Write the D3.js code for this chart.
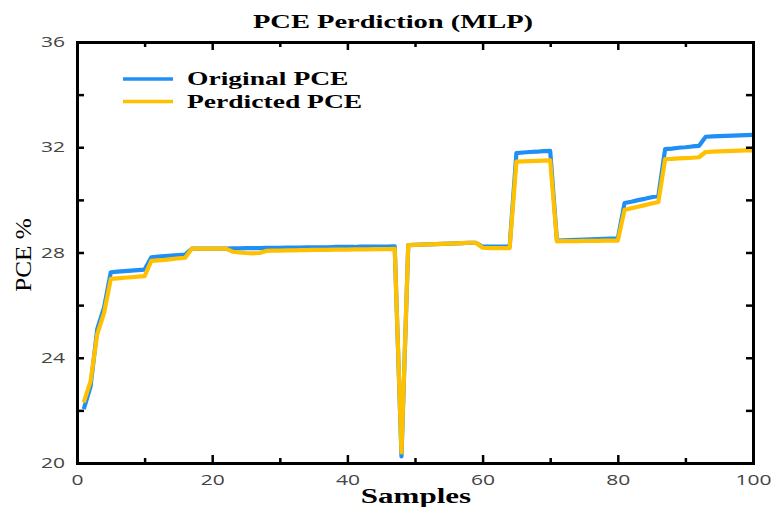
<!DOCTYPE html>
<html><head><meta charset="utf-8">
<script src="https://cdn.jsdelivr.net/npm/d3@7"></script>
<style>body{margin:0;background:#fff}svg{display:block}</style>
</head><body>
<svg id="c" width="771" height="507"></svg>
<script>
const samples = d3.range(1, 101);
const originalPCE = [
 22.05,22.9,25.1,25.9,27.25,27.27,27.29,27.31,27.33,27.35,
 27.82,27.84,27.86,27.88,27.9,27.92,28.15,28.15,28.15,28.15,
 28.15,28.15,28.16,28.16,28.17,28.17,28.17,28.18,28.18,28.18,
 28.19,28.19,28.19,28.2,28.2,28.2,28.2,28.21,28.21,28.21,
 28.21,28.22,28.22,28.22,28.22,28.22,28.23,20.25,28.28,28.29,
 28.3,28.31,28.32,28.33,28.34,28.35,28.36,28.37,28.37,28.22,
 28.22,28.22,28.22,28.22,31.78,31.8,31.82,31.83,31.85,31.86,
 28.45,28.46,28.47,28.48,28.49,28.5,28.51,28.52,28.53,28.53,
 29.88,29.93,29.99,30.04,30.1,30.15,31.93,31.95,31.98,32.0,
 32.03,32.05,32.4,32.41,32.42,32.43,32.44,32.45,32.46,32.47
];
const predictedPCE = [
 22.3,23.1,24.9,25.7,27.0,27.02,27.04,27.06,27.08,27.1,
 27.68,27.7,27.72,27.75,27.78,27.8,28.15,28.15,28.15,28.15,
 28.15,28.15,28.03,28.0,27.98,27.97,27.98,28.06,28.07,28.07,
 28.08,28.08,28.09,28.09,28.1,28.1,28.1,28.11,28.11,28.11,
 28.12,28.12,28.12,28.13,28.13,28.13,28.14,20.4,28.28,28.29,
 28.3,28.31,28.32,28.33,28.34,28.35,28.36,28.37,28.37,28.18,
 28.17,28.17,28.17,28.17,31.45,31.46,31.47,31.48,31.49,31.5,
 28.42,28.43,28.43,28.43,28.44,28.44,28.44,28.45,28.45,28.45,
 29.62,29.68,29.74,29.8,29.86,29.92,31.55,31.56,31.58,31.59,
 31.6,31.62,31.82,31.83,31.84,31.85,31.86,31.87,31.88,31.88
];
const xMajorTicks = [0,20,40,60,80,100];
const xMinorTicks = [10,30,50,70,90];
const yMajorTicks = [20,24,28,32,36];
const yMinorTicks = [22,26,30,34];
const seriesNames = ["Original PCE","Perdicted PCE"];
const seriesColors = ["#1f8ff5","#ffc000"];
const titleText = "PCE Perdiction (MLP)";
const xLabel = "Samples";
const yLabel = "PCE %";

const svg = d3.select("#c");
const L=77, R=753, T=42, B=463;
const x = d3.scaleLinear().domain([0,100]).range([L,R]);
const y = d3.scaleLinear().domain([20,36]).range([B,T]);

function stretch(sel, k){
  sel.each(function(){ const w=this.getComputedTextLength(); this.setAttribute("textLength", w*k); this.setAttribute("lengthAdjust","spacingAndGlyphs"); });
}

// lines
const line = d3.line().x((d,i)=>x(samples[i])).y(d=>y(d));
[originalPCE,predictedPCE].forEach((s,k)=>{
  svg.append("path").datum(s).attr("d",line).attr("fill","none")
    .attr("stroke",seriesColors[k]).attr("stroke-width",4.2).attr("stroke-linejoin","round");
});

// axes
function styleAxis(g){ g.select(".domain").attr("stroke","#000").attr("stroke-width",3);
  g.selectAll(".tick line").attr("stroke","#000").attr("stroke-width",2.5); }
const tickFont = "'Open Sans', sans-serif";
const gb = svg.append("g").attr("transform",`translate(0,${B})`)
  .call(d3.axisBottom(x).tickValues(xMajorTicks).tickSizeInner(-8).tickSizeOuter(0).tickPadding(9).tickFormat(d3.format("d")));
styleAxis(gb);
gb.selectAll("text").attr("font-family",tickFont).attr("font-size",14.5).attr("fill","#444").attr("dy","0.9em");
stretch(gb.selectAll("text"),1.45);
const gbm = svg.append("g").attr("transform",`translate(0,${B})`)
  .call(d3.axisBottom(x).tickValues(xMinorTicks).tickSizeInner(-5).tickSizeOuter(0).tickFormat(""));
styleAxis(gbm); gbm.select(".domain").remove();
const gt = svg.append("g").attr("transform",`translate(0,${T})`)
  .call(d3.axisTop(x).tickValues(xMajorTicks).tickSizeInner(-8).tickSizeOuter(0).tickFormat(""));
styleAxis(gt);
const gtm = svg.append("g").attr("transform",`translate(0,${T})`)
  .call(d3.axisTop(x).tickValues(xMinorTicks).tickSizeInner(-5).tickSizeOuter(0).tickFormat(""));
styleAxis(gtm); gtm.select(".domain").remove();

const gl = svg.append("g").attr("transform",`translate(${L},0)`)
  .call(d3.axisLeft(y).tickValues(yMajorTicks).tickSizeInner(-7).tickSizeOuter(0).tickPadding(12).tickFormat(d3.format("d")));
styleAxis(gl);
gl.selectAll("text").attr("font-family",tickFont).attr("font-size",14.5).attr("fill","#444");
stretch(gl.selectAll("text"),1.45);
const glm = svg.append("g").attr("transform",`translate(${L},0)`)
  .call(d3.axisLeft(y).tickValues(yMinorTicks).tickSizeInner(-7).tickSizeOuter(0).tickFormat(""));
styleAxis(glm); glm.select(".domain").remove();
const gr = svg.append("g").attr("transform",`translate(${R},0)`)
  .call(d3.axisRight(y).tickValues(yMajorTicks.concat(yMinorTicks)).tickSizeInner(-7).tickSizeOuter(0).tickFormat(""));
styleAxis(gr);
svg.selectAll(".domain").attr("stroke-linecap","square");

// title & labels
const serif = "'Liberation Serif','Times New Roman',serif";
const t = svg.append("text").attr("x",393).attr("y",28).attr("text-anchor","middle")
  .attr("font-family",serif).attr("font-weight","bold").attr("font-size",19).text(titleText);
stretch(t,1.5);
const xl = svg.append("text").attr("x",416).attr("y",503).attr("text-anchor","middle")
  .attr("font-family",serif).attr("font-weight","bold").attr("font-size",20).text(xLabel);
stretch(xl,1.55);
const yl = svg.append("text").attr("transform","translate(31,255) rotate(-90)").attr("text-anchor","middle")
  .attr("font-family",serif).attr("font-size",24).text(yLabel);
stretch(yl,1.05);

// legend
seriesNames.forEach((n,k)=>{
  const yy = 79 + k*22.5;
  svg.append("line").attr("x1",123).attr("x2",173).attr("y1",yy).attr("y2",yy)
    .attr("stroke",seriesColors[k]).attr("stroke-width",3.5);
  const tx = svg.append("text").attr("x",187).attr("y",yy+6).attr("font-family",serif)
    .attr("font-weight","bold").attr("font-size",19).text(n);
  stretch(tx,1.45);
});
</script>
</body></html>
